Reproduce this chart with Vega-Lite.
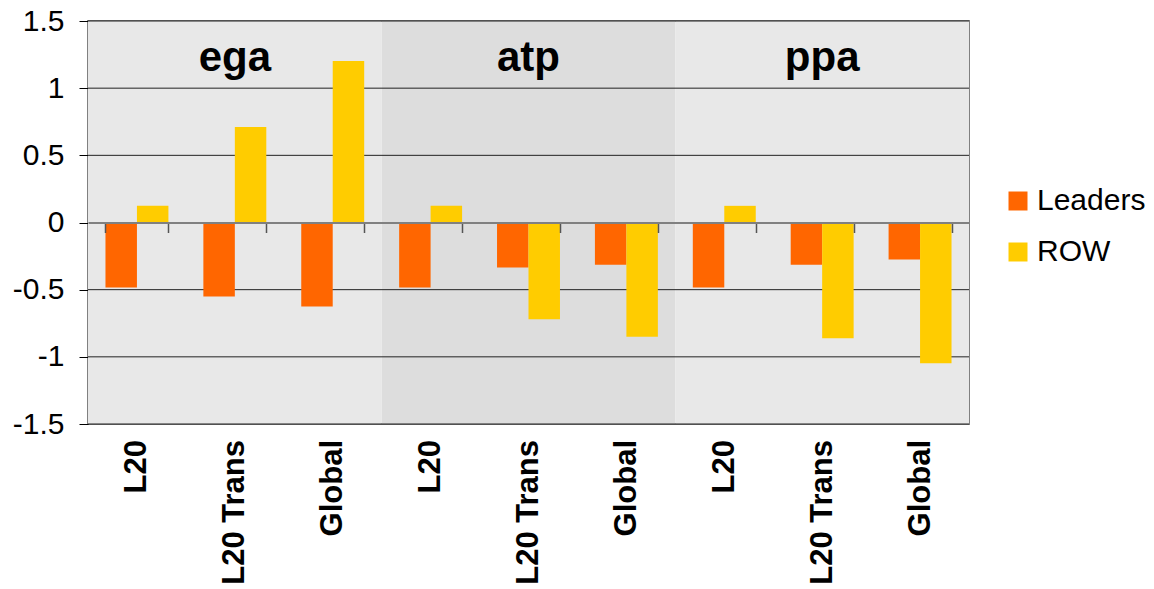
{
  "$schema": "https://vega.github.io/schema/vega-lite/v6.json",
  "width": 881,
  "height": 403,
  "autosize": {"type": "none"},
  "padding": {"left": 88, "top": 21, "right": 185, "bottom": 165},
  "background": "white",
  "config": {
    "font": "Liberation Sans",
    "view": {"stroke": "#808080", "strokeWidth": 2}
  },
  "datasets": {
    "panels": [{"panel": "ega"}, {"panel": "atp"}, {"panel": "ppa"}],
    "grid": [{"v": -1.5}, {"v": -1}, {"v": -0.5}, {"v": 0.5}, {"v": 1}, {"v": 1.5}],
    "bars": [
      {"key": "ega L20", "series": "Leaders", "value": -0.483},
      {"key": "ega L20", "series": "ROW", "value": 0.124},
      {"key": "ega L20 Trans", "series": "Leaders", "value": -0.55},
      {"key": "ega L20 Trans", "series": "ROW", "value": 0.711},
      {"key": "ega Global", "series": "Leaders", "value": -0.625},
      {"key": "ega Global", "series": "ROW", "value": 1.202},
      {"key": "atp L20", "series": "Leaders", "value": -0.483},
      {"key": "atp L20", "series": "ROW", "value": 0.124},
      {"key": "atp L20 Trans", "series": "Leaders", "value": -0.335},
      {"key": "atp L20 Trans", "series": "ROW", "value": -0.721},
      {"key": "atp Global", "series": "Leaders", "value": -0.315},
      {"key": "atp Global", "series": "ROW", "value": -0.85},
      {"key": "ppa L20", "series": "Leaders", "value": -0.483},
      {"key": "ppa L20", "series": "ROW", "value": 0.124},
      {"key": "ppa L20 Trans", "series": "Leaders", "value": -0.315},
      {"key": "ppa L20 Trans", "series": "ROW", "value": -0.862},
      {"key": "ppa Global", "series": "Leaders", "value": -0.275},
      {"key": "ppa Global", "series": "ROW", "value": -1.048}
    ]
  },
  "resolve": {"scale": {"x": "independent"}, "axis": {"x": "independent"}},
  "layer": [
    {
      "data": {"name": "panels"},
      "layer": [
        {
          "mark": {"type": "bar"},
          "encoding": {
            "x": {"field": "panel", "type": "nominal", "sort": null, "scale": {"paddingInner": 0, "paddingOuter": 0}, "axis": null},
            "y": {"datum": 1.5, "type": "quantitative", "scale": {"domain": [-1.5, 1.5], "nice": false}},
            "y2": {"datum": -1.5},
            "fill": {"field": "panel", "type": "nominal", "scale": {"domain": ["ega", "atp", "ppa"], "range": ["#E8E8E8", "#DDDDDD", "#E8E8E8"]}, "legend": null}
          }
        },
        {
          "mark": {"type": "text", "fontSize": 42, "fontWeight": "bold", "baseline": "alphabetic", "color": "#000"},
          "encoding": {
            "x": {"field": "panel", "type": "nominal", "sort": null},
            "y": {"datum": 1.128, "type": "quantitative"},
            "text": {"field": "panel"}
          }
        }
      ]
    },
    {
      "data": {"name": "grid"},
      "mark": {"type": "rule", "color": "#222", "strokeWidth": 1},
      "encoding": {"y": {"field": "v", "type": "quantitative"}}
    },
    {
      "data": {"name": "bars"},
      "mark": {"type": "bar"},
      "encoding": {
        "x": {
          "field": "key", "type": "nominal", "sort": null,
          "scale": {"paddingInner": 0.357, "paddingOuter": 0.1785},
          "axis": {
            "title": null, "orient": "bottom", "offset": -201.5, "zindex": 1,
            "domainColor": "#808080", "domainWidth": 2,
            "ticks": true, "tickBand": "extent", "tickSize": 10, "tickColor": "#555", "tickWidth": 1.5,
            "labelAngle": -90, "labelPadding": 207, "labelFontSize": 31, "labelFontWeight": "bold",
            "labelColor": "#000", "labelOverlap": false, "labelExpr": "slice(datum.label, 4)"
          }
        },
        "xOffset": {"field": "series", "type": "nominal", "sort": ["Leaders", "ROW"]},
        "y": {
          "field": "value", "type": "quantitative",
          "scale": {"domain": [-1.5, 1.5], "nice": false},
          "axis": {
            "title": null, "values": [-1.5, -1, -0.5, 0, 0.5, 1, 1.5], "grid": false,
            "domainColor": "#000", "tickColor": "#000", "tickSize": 9,
            "labelFontSize": 30, "labelPadding": 15, "labelColor": "#000",
            "labelExpr": "datum.value + ''"
          }
        },
        "color": {
          "field": "series", "type": "nominal",
          "scale": {"domain": ["Leaders", "ROW"], "range": ["#FF6600", "#FFCC00"]},
          "legend": {
            "title": null, "orient": "none", "legendX": 915, "legendY": 165,
            "symbolType": "square", "symbolSize": 361, "symbolStrokeWidth": 0, "symbolOpacity": 1,
            "labelFontSize": 30, "labelOffset": 4, "rowPadding": 21, "labelColor": "#000"
          }
        }
      }
    }
  ]
}
